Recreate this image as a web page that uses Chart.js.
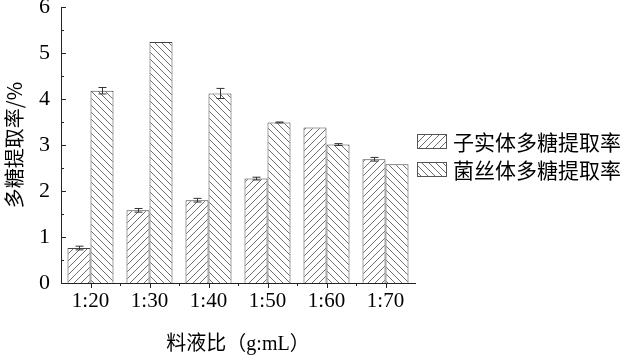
<!DOCTYPE html>
<html lang="zh">
<head>
  <meta charset="UTF-8" />
  <title>料液比对多糖提取率的影响</title>
  <style>
    body { margin: 0; padding: 0; background: #fff; }
    #chartBox { width: 628px; height: 357px; }
  </style>
</head>
<body>
  <div id="chartBox"><canvas id="ratioChart" width="628" height="357"></canvas></div>

  <script src="https://cdn.jsdelivr.net/npm/chart.js"></script>
  <script>
    // data
    const categories = ['1:20', '1:30', '1:40', '1:50', '1:60', '1:70'];
    const seriesNames = ['子实体多糖提取率', '菌丝体多糖提取率'];
    const fruitBodyRate = [0.76, 1.58, 1.80, 2.27, 3.38, 2.69];
    const fruitBodyErr = [0.04, 0.04, 0.04, 0.03, 0, 0.04];
    const myceliumRate = [4.18, 5.24, 4.12, 3.49, 3.01, 2.58];
    const myceliumErr = [0.07, 0, 0.11, 0.01, 0.02, 0];
    const yTicks = [0, 1, 2, 3, 4, 5, 6];

    const serif = "'Liberation Serif', 'Noto Sans CJK SC', serif";
    const cjk = "'Noto Sans CJK SC', 'Liberation Serif', sans-serif";

    const ctx = document.getElementById('ratioChart').getContext('2d');

    // diagonal hatch fills, "/" for the first series and "\" for the second
    function hatch(forward) {
      const s = 7;
      const c = document.createElement('canvas');
      c.width = s; c.height = s;
      const g = c.getContext('2d');
      g.fillStyle = '#fff';
      g.fillRect(0, 0, s, s);
      g.strokeStyle = '#6e6e6e';
      g.lineWidth = 1;
      g.beginPath();
      if (forward) {
        g.moveTo(-1, s + 1); g.lineTo(s + 1, -1);
        g.moveTo(-1, 1); g.lineTo(1, -1);
        g.moveTo(s - 1, s + 1); g.lineTo(s + 1, s - 1);
      } else {
        g.moveTo(-1, -1); g.lineTo(s + 1, s + 1);
        g.moveTo(s - 1, -1); g.lineTo(s + 1, 1);
        g.moveTo(-1, s - 1); g.lineTo(1, s + 1);
      }
      g.stroke();
      return ctx.createPattern(c, 'repeat');
    }

    const errors = [fruitBodyErr, myceliumErr];

    // error bars, inner tick marks and the legend on the right
    const extras = {
      id: 'extras',
      afterDatasetsDraw(chart) {
        const c = chart.ctx;
        const y = chart.scales.y;
        c.save();
        c.strokeStyle = '#333';
        c.lineWidth = 1;
        chart.data.datasets.forEach((ds, di) => {
          const meta = chart.getDatasetMeta(di);
          meta.data.forEach((bar, i) => {
            const e = errors[di][i];
            if (!e) return;
            const x = Math.round(bar.x) + 0.5;
            const top = y.getPixelForValue(ds.data[i] + e);
            const bot = y.getPixelForValue(ds.data[i] - e);
            c.beginPath();
            c.moveTo(x, top); c.lineTo(x, bot);
            c.moveTo(x - 4, top); c.lineTo(x + 4, top);
            c.moveTo(x - 4, bot); c.lineTo(x + 4, bot);
            c.stroke();
          });
        });
        c.restore();
      },
      afterDraw(chart) {
        const c = chart.ctx;
        const { x, y } = chart.scales;
        const area = chart.chartArea;
        c.save();
        c.strokeStyle = '#222';
        c.lineWidth = 1;
        c.beginPath();
        // y ticks point into the plot
        for (let v = 0; v <= 6; v += 0.5) {
          const py = Math.round(y.getPixelForValue(v)) + 0.5;
          const len = Number.isInteger(v) ? 5 : 3;
          c.moveTo(area.left, py); c.lineTo(area.left + len, py);
        }
        // x ticks point down: long at categories, short between them
        categories.forEach((cat, i) => {
          const px = Math.round(x.getPixelForValue(i)) + 0.5;
          c.moveTo(px, area.bottom); c.lineTo(px, area.bottom + 5);
          const edge = Math.round(x.getPixelForValue(i + 0.5)) + 0.5;
          if (i < categories.length - 1) {
            c.moveTo(edge, area.bottom); c.lineTo(edge, area.bottom + 3);
          }
        });
        c.stroke();

        // legend
        const bx = area.right + 2, bw = 29, bh = 14;
        const rows = [141, 169];
        chart.data.datasets.forEach((ds, di) => {
          const cy = rows[di];
          c.fillStyle = ds.backgroundColor;
          c.fillRect(bx, cy - bh / 2, bw, bh);
          c.strokeStyle = '#555';
          c.strokeRect(bx + 0.5, cy - bh / 2 + 0.5, bw, bh);
          c.fillStyle = '#000';
          c.font = "21px " + cjk;
          c.textBaseline = 'middle';
          c.textAlign = 'left';
          c.fillText(ds.label, bx + bw + 7, cy + 1);
        });
        c.restore();
      }
    };

    new Chart(ctx, {
      type: 'bar',
      data: {
        labels: categories,
        datasets: [
          {
            label: seriesNames[0],
            data: fruitBodyRate,
            backgroundColor: hatch(true),
            borderColor: '#444',
            borderWidth: 1
          },
          {
            label: seriesNames[1],
            data: myceliumRate,
            backgroundColor: hatch(false),
            borderColor: '#444',
            borderWidth: 1
          }
        ]
      },
      options: {
        responsive: false,
        animation: false,
        layout: { padding: { top: 7, right: 213, left: 0, bottom: 0 } },
        plugins: {
          legend: { display: false },
          tooltip: { enabled: false }
        },
        datasets: {
          bar: { barPercentage: 1, categoryPercentage: 0.78 }
        },
        scales: {
          x: {
            grid: { display: false, drawTicks: false },
            border: { display: true, color: '#222', width: 1 },
            ticks: {
              color: '#000',
              padding: 6,
              font: { family: serif, size: 21 }
            },
            title: {
              display: true,
              text: '料液比（g:mL）',
              color: '#000',
              padding: { top: 0, bottom: 0 },
              font: { family: serif, size: 20 }
            },
            afterFit(s) { s.height = 74; }
          },
          y: {
            min: 0,
            max: 6,
            grid: { display: false, drawTicks: false },
            border: { display: true, color: '#222', width: 1 },
            afterBuildTicks(s) { s.ticks = yTicks.map(v => ({ value: v })); },
            ticks: {
              color: '#000',
              padding: 11,
              font: { family: serif, size: 22 }
            },
            title: {
              display: true,
              text: '多糖提取率/%',
              color: '#000',
              padding: { top: 2, bottom: 0 },
              font: { family: cjk, size: 20 }
            },
            afterFit(s) { s.width = 61; s.paddingTop = 0; s.paddingBottom = 0; }
          }
        }
      },
      plugins: [extras]
    });
  </script>
</body>
</html>
